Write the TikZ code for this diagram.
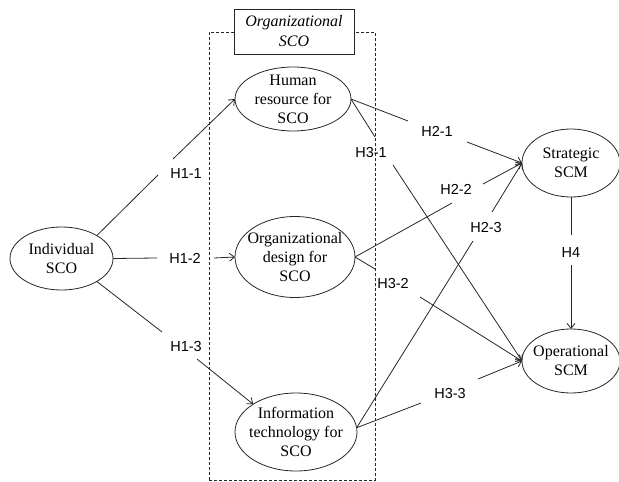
\documentclass[tikz,border=0pt]{standalone}
\usepackage{fontspec}
\setmainfont{Liberation Serif}
\setsansfont{Liberation Sans}
\usetikzlibrary{shapes.geometric,arrows.meta}
\tikzset{
  ell/.style={ellipse, draw=black!85, line width=0.8pt, inner sep=-20pt, outer sep=0pt,
    align=center, font=\fontsize{16}{19}\selectfont},
  lab/.style={font=\sffamily\fontsize{14.5}{17}\selectfont, inner sep=0pt, text depth=0pt, anchor=center},
  conn/.style={draw=black!85, line width=0.8pt},
  arr/.style={conn, -{Straight Barb[length=5pt,width=8pt]}},
  grp/.style={draw=black!85, line width=0.8pt, dash pattern=on 3pt off 2pt,
    minimum width=166pt, minimum height=448pt, inner sep=0pt},
  ttl/.style={draw=black!85, fill=white, line width=0.8pt, minimum width=120pt,
    minimum height=45pt, inner sep=0pt, align=center, font=\itshape\fontsize{16}{20}\selectfont}
}
\begin{document}
\begin{tikzpicture}[x=1pt,y=-1pt]
\useasboundingbox (0,0) rectangle (619,482);
% group box
\node[grp] (grpbox) at (292,256) {};
\node[ttl] (title) at (294,31.5) {Organizational\\SCO};
% ellipses
\node[ell, minimum width=103pt, minimum height=63pt] (ind) at (61.5,258.5) {Individual\\SCO};
\node[ell, minimum width=116pt, minimum height=64pt] (hr) at (293,99) {Human\\resource for\\SCO};
\node[ell, minimum width=120pt, minimum height=81pt] (od) at (295,257) {Organizational\\design for\\SCO};
\node[ell, minimum width=122pt, minimum height=78pt] (it) at (296,432) {Information\\technology for\\SCO};
\node[ell, minimum width=98pt, minimum height=68pt] (st) at (571,163) {Strategic\\SCM};
\node[ell, minimum width=98pt, minimum height=64pt] (op) at (571,361) {Operational\\SCM};
% labels
\node[lab] (l11) at (186,174) {H1-1};
\node[lab] (l12) at (185,258) {H1-2};
\node[lab] (l13) at (186,346) {H1-3};
\node[lab] (l21) at (437,131) {H2-1};
\node[lab] (l31) at (371,152) {H3-1};
\node[lab] (l22) at (456,189) {H2-2};
\node[lab] (l23) at (486,227) {H2-3};
\node[lab] (l32) at (393,283) {H3-2};
\node[lab] (l33) at (450,393) {H3-3};
\node[lab] (l4) at (571,253) {H4};
% gap coordinates
\coordinate (g11a) at (158,175); \coordinate (g11b) at (173,159);
\coordinate (g12a) at (157,258); \coordinate (g12b) at (214,258);
\coordinate (g13a) at (162,332); \coordinate (g13b) at (197,359);
\coordinate (g21a) at (408,121); \coordinate (g21b) at (467,142);
\coordinate (g31a) at (375,137); \coordinate (g31b) at (393,165);
\coordinate (g22a) at (452,203); \coordinate (g22b) at (483,184);
\coordinate (g32a) at (375,269); \coordinate (g32b) at (420,297);
\coordinate (g23a) at (473,241); \coordinate (g23b) at (492,212);
\coordinate (g33a) at (421,403); \coordinate (g33b) at (478,379);
\coordinate (g4a) at (571,235); \coordinate (g4b) at (571,265);
% connectors
\draw[arr] (ind.33) -- (g11a) (g11b) -- (hr.west);
\draw[arr] (ind.east) -- (g12a) (g12b) -- (od.west);
\draw[arr] (ind.-33) -- (g13a) (g13b) -- (it.147);
\draw[arr] (hr.east) -- (g21a) (g21b) -- (st.west);
\draw[arr] (hr.east) -- (g31a) (g31b) -- (op.west);
\draw[arr] (od.east) -- (g22a) (g22b) -- (st.west);
\draw[arr] (od.east) -- (g32a) (g32b) -- (op.west);
\draw[arr] (it.4) -- (g23a) (g23b) -- (st.west);
\draw[arr] (it.4) -- (g33a) (g33b) -- (op.west);
\draw[arr] (st.south) -- (g4a) (g4b) -- (op.north);
\end{tikzpicture}
\end{document}
